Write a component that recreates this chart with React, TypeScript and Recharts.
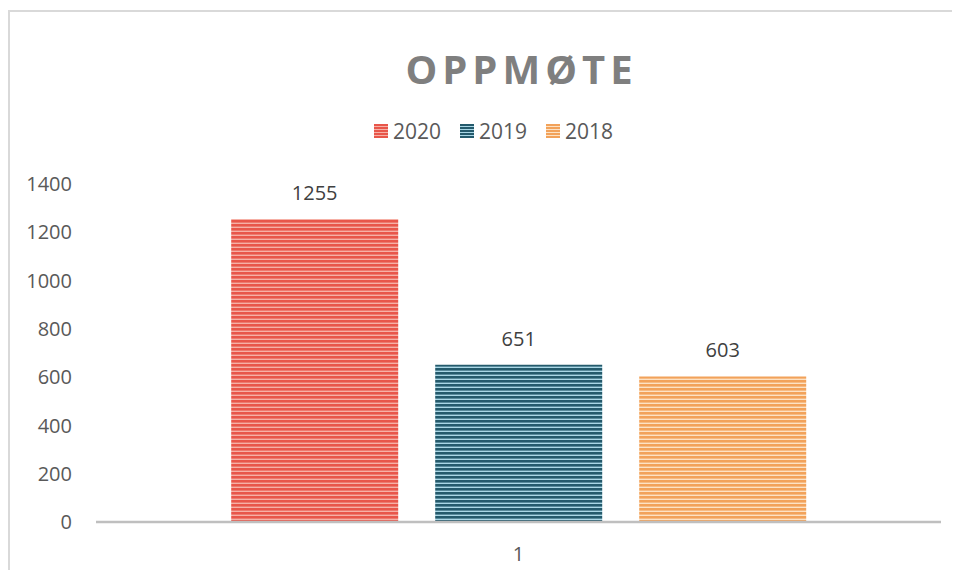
import React from 'react';
import { BarChart, Bar, XAxis, YAxis, LabelList } from 'recharts';

const categories = ['1'];
const seriesNames = ['2020', '2019', '2018'];
const seriesValues = [1255, 651, 603];
const yTicks = [0, 200, 400, 600, 800, 1000, 1200, 1400];

// dark stripe / light stripe for each series
const seriesColors = [
  { dark: '#e8564a', light: '#f6b0a6' },
  { dark: '#245a6c', light: '#a9d7e6' },
  { dark: '#f2a25a', light: '#fde2c4' },
];

const data = categories.map((c) => {
  const row: Record<string, string | number> = { name: c };
  seriesNames.forEach((s, i) => {
    row[s] = seriesValues[i];
  });
  return row;
});

const font = '"Open Sans", Lato, sans-serif';

const App: React.FC = () => {
  return (
    <div
      style={{
        position: 'relative',
        width: 952,
        height: 570,
        marginBottom: -8,
        fontFamily: font,
        overflow: 'hidden',
      }}
    >
      <style>{'html, body { overflow: hidden; }'}</style>
      <div
        style={{
          position: 'absolute',
          left: 0,
          top: 2,
          width: 1000,
          height: 600,
          borderLeft: '2px solid #d9d9d9',
          borderTop: '2px solid #d9d9d9',
          boxSizing: 'border-box',
        }}
      />
      <div
        style={{
          position: 'absolute',
          left: 0,
          width: 1027,
          top: 33,
          textAlign: 'center',
          fontSize: 40,
          fontWeight: 700,
          letterSpacing: 5,
          color: '#7f7f7f',
        }}
      >
        OPPMØTE
      </div>
      <div
        style={{
          position: 'absolute',
          left: 366,
          top: 109,
          display: 'flex',
          gap: 19,
          fontSize: 21,
          color: '#595959',
          alignItems: 'center',
        }}
      >
        {seriesNames.map((s, i) => (
          <div key={s} style={{ display: 'flex', alignItems: 'center', gap: 5 }}>
            <svg width={14} height={14}>
              <rect width={14} height={14} fill={`url(#legend${i})`} />
              <defs>
                <pattern id={`legend${i}`} width={4} height={3} patternUnits="userSpaceOnUse">
                  <rect width={4} height={3} fill={seriesColors[i].light} />
                  <rect width={4} height={2} fill={seriesColors[i].dark} />
                </pattern>
              </defs>
            </svg>
            <span>{s}</span>
          </div>
        ))}
      </div>
      <div style={{ position: 'absolute', left: 0, top: 0 }}>
        <BarChart
          width={952}
          height={570}
          data={data}
          margin={{ top: 176, right: 19, bottom: 16, left: 0 }}
          barCategoryGap="16%"
          barGap={37}
        >
          <defs>
            {seriesColors.map((c, i) => (
              <pattern key={i} id={`stripe${i}`} width={4} height={4} patternUnits="userSpaceOnUse">
                <rect width={4} height={4} fill={c.light} />
                <rect width={4} height={2.6} fill={c.dark} />
              </pattern>
            ))}
          </defs>
          <XAxis
            dataKey="name"
            height={40}
            axisLine={{ stroke: '#bfbfbf', strokeWidth: 2.5 }}
            tickLine={false}
            tickSize={0}
            tickMargin={25}
            tick={{ fontSize: 20, fill: '#595959', fontFamily: font }}
          />
          <YAxis
            width={88}
            domain={[0, 1400]}
            ticks={yTicks}
            axisLine={false}
            tickLine={false}
            tickSize={0}
            tickMargin={24}
            interval={0}
            tick={{ fontSize: 20, fill: '#595959', fontFamily: font }}
          />
          {seriesNames.map((s, i) => (
            <Bar key={s} dataKey={s} fill={`url(#stripe${i})`} isAnimationActive={false}>
              <LabelList
                dataKey={s}
                position="top"
                offset={19}
                style={{ fontSize: 20, fill: '#404040', fontFamily: font }}
              />
            </Bar>
          ))}
        </BarChart>
      </div>
    </div>
  );
};

export default App;
